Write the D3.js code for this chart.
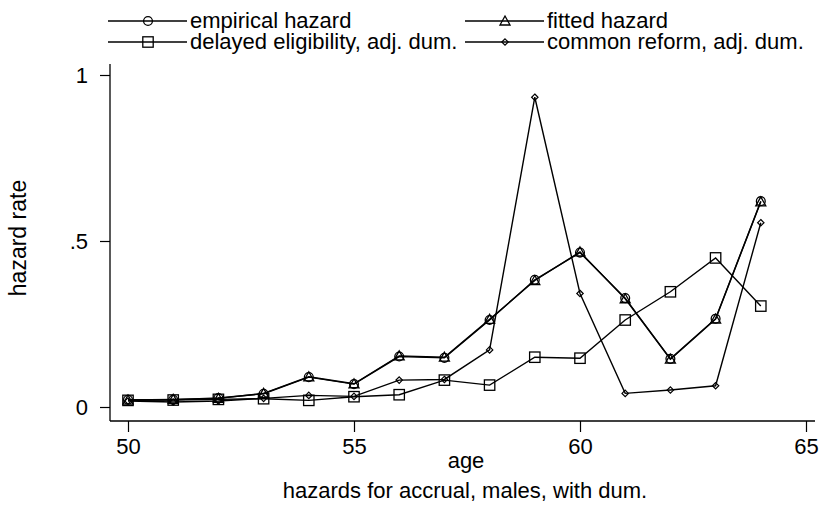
<!DOCTYPE html>
<html>
<head>
<meta charset="utf-8">
<script src="https://cdn.jsdelivr.net/npm/d3@7/dist/d3.min.js"></script>
<style>
  html, body { margin: 0; padding: 0; background: #fff; }
  svg { display: block; }
  text { font-family: "Liberation Sans", Arial, Helvetica, sans-serif; fill: #000; }
</style>
</head>
<body>
<svg id="chart" width="826" height="507"></svg>
<script>
// Hazard rates by age
const ages = [50, 51, 52, 53, 54, 55, 56, 57, 58, 59, 60, 61, 62, 63, 64];
const empirical = [0.022, 0.022, 0.027, 0.040, 0.090, 0.069, 0.152, 0.148, 0.262, 0.383, 0.465, 0.328, 0.145, 0.266, 0.620];
const fitted    = [0.021, 0.023, 0.026, 0.041, 0.091, 0.070, 0.154, 0.150, 0.264, 0.381, 0.467, 0.326, 0.144, 0.265, 0.618];
const delayed   = [0.020, 0.021, 0.023, 0.025, 0.020, 0.031, 0.037, 0.081, 0.066, 0.150, 0.147, 0.262, 0.347, 0.449, 0.304];
const common    = [0.018, 0.015, 0.018, 0.026, 0.035, 0.032, 0.081, 0.083, 0.172, 0.933, 0.342, 0.041, 0.051, 0.064, 0.555];

const xTicks = [50, 55, 60, 65];
const yTicks = [0, 0.5, 1];
const yTickLabels = ["0", ".5", "1"];

const seriesNames = ["empirical hazard", "fitted hazard", "delayed eligibility, adj. dum.", "common reform, adj. dum."];

const svg = d3.select("#chart");
const FS = 22;

const x = d3.scaleLinear().domain([50, 65]).range([128, 806]);
const y = d3.scaleLinear().domain([0, 1]).range([407, 75]);

const axisX0 = 110, axisY0 = 421;

// Marker shapes
function drawMarker(g, kind, cx, cy) {
  if (kind === "circle") {
    g.append("circle").attr("cx", cx).attr("cy", cy).attr("r", 4.4)
      .attr("fill", "none").attr("stroke", "#000").attr("stroke-width", 1.3);
  } else if (kind === "triangle") {
    const s = 5;
    g.append("path")
      .attr("d", `M${cx},${cy - s}L${cx + s},${cy + s * 0.8}L${cx - s},${cy + s * 0.8}Z`)
      .attr("fill", "none").attr("stroke", "#000").attr("stroke-width", 1.3);
  } else if (kind === "square") {
    const s = 5.2;
    g.append("rect").attr("x", cx - s).attr("y", cy - s).attr("width", 2 * s).attr("height", 2 * s)
      .attr("fill", "none").attr("stroke", "#000").attr("stroke-width", 1.3);
  } else if (kind === "diamond") {
    const s = 3.2;
    g.append("path")
      .attr("d", `M${cx},${cy - s}L${cx + s},${cy}L${cx},${cy + s}L${cx - s},${cy}Z`)
      .attr("fill", "none").attr("stroke", "#000").attr("stroke-width", 1.2);
  }
}

const series = [
  { name: seriesNames[0], values: empirical, marker: "circle" },
  { name: seriesNames[1], values: fitted, marker: "triangle" },
  { name: seriesNames[2], values: delayed, marker: "square" },
  { name: seriesNames[3], values: common, marker: "diamond" }
];

// Axes
const gx = svg.append("g").attr("transform", `translate(0,${axisY0})`)
  .call(d3.axisBottom(x).tickValues(xTicks).tickSize(11).tickPadding(6).tickFormat(d3.format("d")));
gx.select(".domain").remove();
gx.selectAll(".tick line").attr("stroke", "#000").attr("stroke-width", 1.2);
gx.selectAll(".tick text").attr("font-size", FS);

const gy = svg.append("g").attr("transform", `translate(${axisX0},0)`)
  .call(d3.axisLeft(y).tickValues(yTicks).tickSize(10).tickPadding(12)
    .tickFormat((d, i) => yTickLabels[i]));
gy.select(".domain").remove();
gy.selectAll(".tick line").attr("stroke", "#000").attr("stroke-width", 1.2);
gy.selectAll(".tick text").attr("font-size", FS);

svg.append("line").attr("x1", axisX0).attr("x2", 815).attr("y1", axisY0).attr("y2", axisY0)
  .attr("stroke", "#000").attr("stroke-width", 1.3);
svg.append("line").attr("x1", axisX0).attr("x2", axisX0).attr("y1", 64).attr("y2", axisY0)
  .attr("stroke", "#000").attr("stroke-width", 1.3);

// Lines and markers
const line = d3.line().x((d, i) => x(ages[i])).y(d => y(d));
series.forEach(s => {
  svg.append("path").datum(s.values).attr("d", line)
    .attr("fill", "none").attr("stroke", "#000").attr("stroke-width", 1.4);
});
series.forEach(s => {
  const g = svg.append("g");
  s.values.forEach((v, i) => drawMarker(g, s.marker, x(ages[i]), y(v)));
});

// Axis titles
svg.append("text").attr("transform", "translate(26,238) rotate(-90)")
  .attr("text-anchor", "middle").attr("font-size", 23).text("hazard rate");
svg.append("text").attr("x", 466).attr("y", 468).attr("text-anchor", "middle")
  .attr("font-size", FS).text("age");
svg.append("text").attr("x", 465).attr("y", 498).attr("text-anchor", "middle")
  .attr("font-size", FS).text("hazards for accrual, males, with dum.");

// Legend
const legendItems = [
  { s: series[0], x0: 108, cy: 21 },
  { s: series[1], x0: 465, cy: 21 },
  { s: series[2], x0: 108, cy: 42 },
  { s: series[3], x0: 465, cy: 42 }
];
legendItems.forEach(it => {
  const g = svg.append("g");
  g.append("line").attr("x1", it.x0).attr("x2", it.x0 + 79).attr("y1", it.cy).attr("y2", it.cy)
    .attr("stroke", "#000").attr("stroke-width", 1.3);
  drawMarker(g, it.s.marker, it.x0 + 40, it.cy);
  g.append("text").attr("x", it.x0 + 82).attr("y", it.cy + 7).attr("font-size", FS).text(it.s.name);
});
</script>
</body>
</html>
